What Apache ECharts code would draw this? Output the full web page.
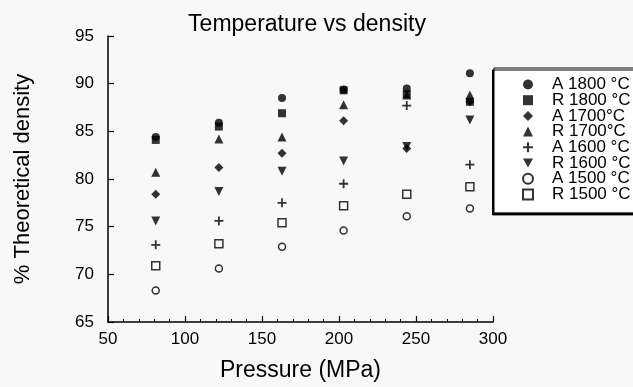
<!DOCTYPE html>
<html>
<head>
<meta charset="utf-8">
<script src="https://cdn.jsdelivr.net/npm/echarts@6/dist/echarts.min.js"></script>
<style>
  html, body { margin: 0; padding: 0; background: #f8f8f8; }
  #chart { width: 633px; height: 387px; }
</style>
</head>
<body>
<div id="chart"></div>
<script>
// pressure (MPa) for each column of points
const pressures = [81, 122, 163, 203, 244, 285];

// % theoretical density
const a1800 = [84.4, 85.9, 88.5, 89.4, 89.5, 91.1];
const r1800 = [84.1, 85.5, 86.9, 89.3, 88.9, 88.1];
const a1700 = [78.4, 81.2, 82.7, 86.1, 83.2, 88.1];
const r1700 = [80.7, 84.2, 84.4, 87.8, 88.8, 88.8];
const a1600 = [73.1, 75.6, 77.5, 79.5, 87.7, 81.5];
const r1600 = [75.6, 78.7, 80.8, 81.9, 83.4, 86.2];
const a1500 = [68.3, 70.6, 72.9, 74.6, 76.1, 76.9];
const r1500 = [70.9, 73.2, 75.4, 77.2, 78.4, 79.2];

const seriesNames = ['A 1800 °C', 'R 1800 °C', 'A 1700°C', 'R 1700°C',
                     'A 1600 °C', 'R 1600 °C', 'A 1500 °C', 'R 1500 °C'];

const BG = '#f8f8f8';
const FONT = '"Liberation Sans", Arial, sans-serif';

const plusPath = 'path://M4,0 H6 V4 H10 V6 H6 V10 H4 V6 H0 V4 H4 Z';
const downTri = 'path://M0,0 L10,0 L5,9 Z';

const pts = (vals) => vals.map((v, i) => [pressures[i], v]);

const filled = { color: '#000' };
const hollow = { color: BG, borderColor: '#000', borderWidth: 1.5 };

const styles = [
  { data: a1800, symbol: 'circle', size: 8, item: filled },
  { data: r1800, symbol: 'rect', size: 8, item: filled },
  { data: a1700, symbol: 'diamond', size: 9, item: filled },
  { data: r1700, symbol: 'triangle', size: 9, item: filled },
  { data: a1600, symbol: plusPath, size: 9, item: filled },
  { data: r1600, symbol: downTri, size: 9, item: filled },
  { data: a1500, symbol: 'circle', size: 7, item: hollow },
  { data: r1500, symbol: 'rect', size: 8, item: hollow }
];

const chart = echarts.init(document.getElementById('chart'), null, { renderer: 'canvas' });

const option = {
  backgroundColor: BG,
  animation: false,
  textStyle: { fontFamily: FONT, color: '#000' },
  title: {
    text: 'Temperature vs density',
    left: 302,
    top: 8,
    textAlign: 'center',
    textStyle: { fontFamily: FONT, fontSize: 23, fontWeight: 'normal', color: '#000' }
  },
  grid: { left: 108, right: 140, top: 36, bottom: 63 },
  legend: {
    orient: 'vertical',
    left: 494,
    top: 68,
    padding: [8, 20, 10, 28],
    itemWidth: 10,
    itemHeight: 10,
    itemGap: -1.3,
    backgroundColor: '#fff',
    borderColor: '#000',
    borderWidth: 1,
    shadowColor: '#000',
    shadowBlur: 0,
    shadowOffsetX: -1.5,
    shadowOffsetY: 2,
    selectedMode: false,
    data: seriesNames,
    textStyle: {
      fontFamily: FONT,
      fontSize: 17,
      color: '#000',
      padding: [0, 0, 0, 14]
    }
  },
  xAxis: {
    type: 'value',
    min: 50,
    max: 300,
    interval: 50,
    name: 'Pressure (MPa)',
    nameLocation: 'middle',
    nameGap: 37,
    nameTextStyle: { fontFamily: FONT, fontSize: 23, color: '#000' },
    axisLine: { onZero: false, lineStyle: { color: '#000', width: 1.5 } },
    axisTick: { inside: true, length: 6, lineStyle: { color: '#000', width: 1.2 } },
    minorTick: { show: true, splitNumber: 5, length: 3, lineStyle: { color: '#000', width: 1 } },
    axisLabel: { fontFamily: FONT, fontSize: 17, color: '#000', margin: 9 },
    splitLine: { show: false }
  },
  yAxis: {
    type: 'value',
    min: 65,
    max: 95,
    interval: 5,
    name: '% Theoretical density',
    nameLocation: 'middle',
    nameGap: 74,
    nameTextStyle: { fontFamily: FONT, fontSize: 22, color: '#000' },
    axisLine: { show: true, onZero: false, lineStyle: { color: '#000', width: 1.5 } },
    axisTick: { inside: true, length: 6, lineStyle: { color: '#000', width: 1.2 } },
    axisLabel: { fontFamily: FONT, fontSize: 17, color: '#000', margin: 14 },
    splitLine: { show: false }
  },
  series: styles.map((s, i) => ({
    name: seriesNames[i],
    type: 'scatter',
    data: pts(s.data),
    symbol: s.symbol,
    symbolSize: s.size,
    itemStyle: s.item,
    z: 10 - i
  }))
};

chart.setOption(option);
</script>
</body>
</html>
